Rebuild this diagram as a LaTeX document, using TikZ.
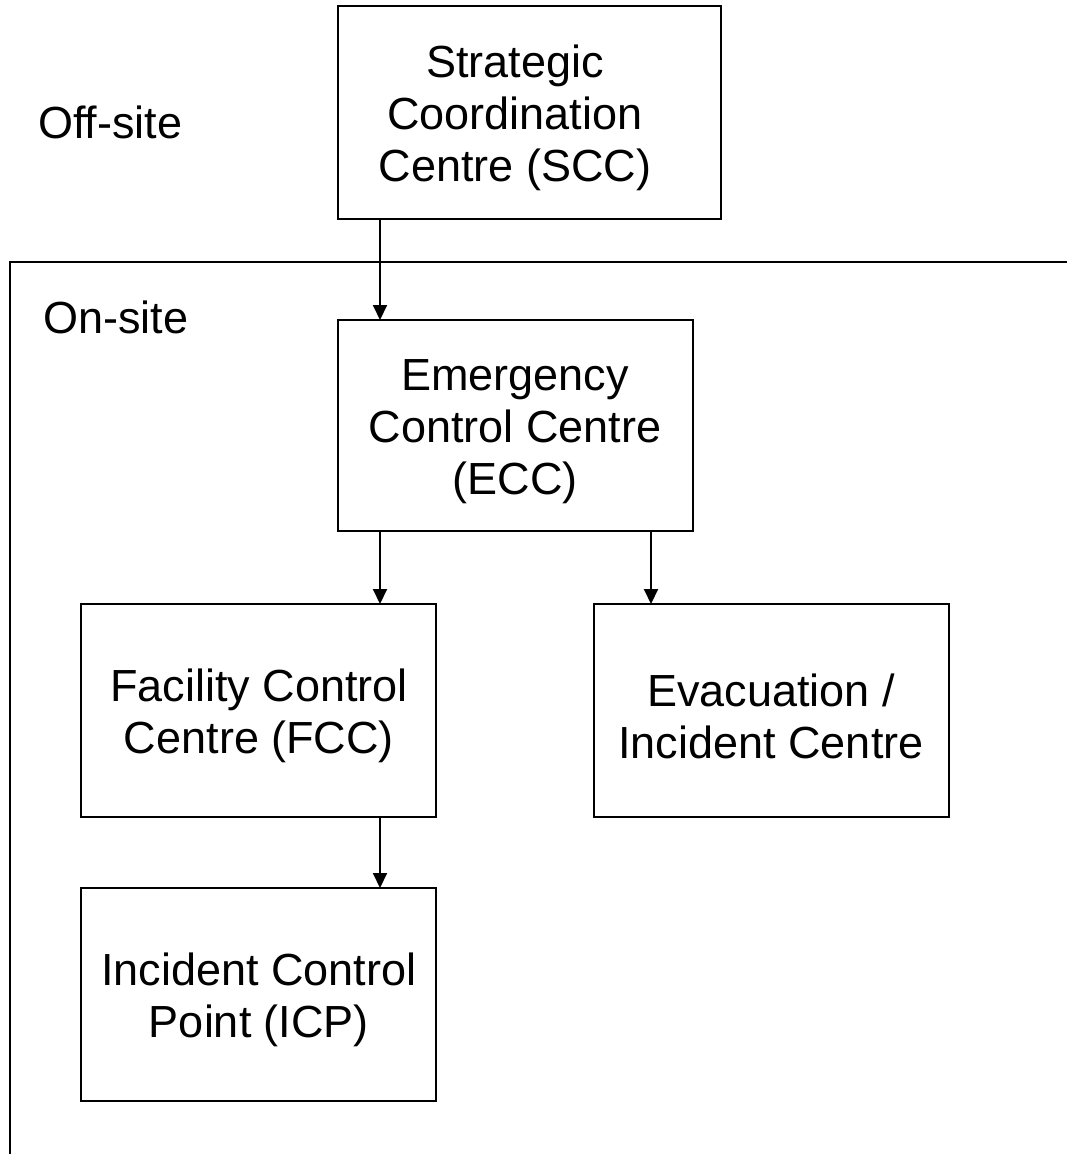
\documentclass[tikz,border=0pt]{standalone}
\usepackage{fontspec}
\setmainfont{Liberation Sans}
\usetikzlibrary{arrows.meta}
\begin{document}
\begin{tikzpicture}[x=1pt,y=-1pt,
  box/.style={draw, line width=2pt},
  lbl/.style={align=center, font=\fontsize{45}{52}\selectfont, inner sep=0pt},
  arr/.style={line width=2pt, -{Triangle[length=15pt,width=14pt]}}]
\useasboundingbox (0,0) rectangle (1066,1154);
% on-site frame
\draw[line width=2pt] (10,1160) coordinate (fb) -- (10,262) coordinate (fc) -- (1070,262) coordinate (fr);
% boxes
\draw[box] (338,6) rectangle (721,219);
\coordinate (sccb) at (380,219);
\draw[box] (338,320) rectangle (693,531);
\coordinate (ecct) at (380,320);
\coordinate (eccbl) at (380,531);
\coordinate (eccbr) at (651,531);
\draw[box] (81,604) rectangle (436,817);
\coordinate (fcct) at (380,604);
\coordinate (fccb) at (380,817);
\draw[box] (594,604) rectangle (949,817);
\coordinate (evt) at (651,604);
\draw[box] (81,888) rectangle (436,1101);
\coordinate (icpt) at (380,888);
% texts
\node[lbl] (scc) at (515,118) {Strategic\\Coordination\\Centre (SCC)};
\node[lbl] (ecc) at (515,432) {Emergency\\Control Centre\\(ECC)};
\node[lbl] (fcc) at (259,716) {Facility Control\\Centre (FCC)};
\node[lbl] (evac) at (771,716) {Evacuation /\\Incident Centre};
\node[lbl] (icp) at (259,1000) {Incident Control\\Point (ICP)};
\node[lbl, anchor=west] (off) at (38,122) {Off-site};
\node[lbl, anchor=west] (on) at (43,317) {On-site};
% arrows
\draw[arr] (sccb) -- (ecct);
\draw[arr] (eccbl) -- (fcct);
\draw[arr] (eccbr) -- (evt);
\draw[arr] (fccb) -- (icpt);
\end{tikzpicture}
\end{document}
